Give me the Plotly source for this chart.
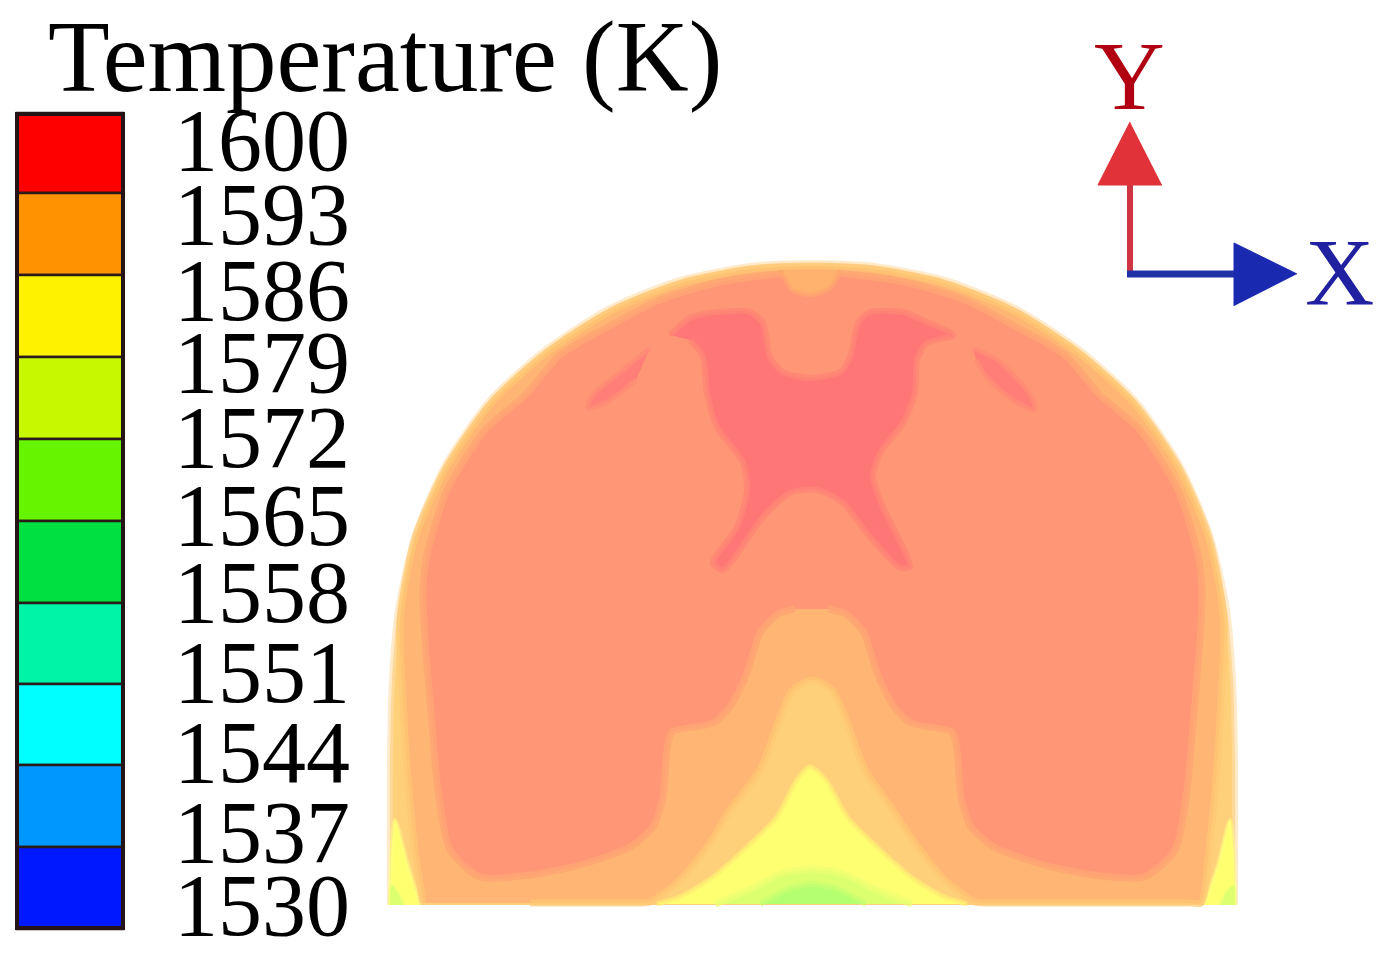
import plotly.graph_objects as go

# colour legend
levels = ["1600", "1593", "1586", "1579", "1572", "1565", "1558", "1551", "1544", "1537", "1530"]
level_colors = ["#ff0000", "#ff9200", "#fff200", "#c8f800", "#66f400", "#00e040",
                "#00f4a8", "#00ffff", "#0098ff", "#0018ff"]
level_edges = [113, 193, 275, 357, 439, 521, 603, 684, 765, 847, 929]
label_y = [140, 214, 290, 362, 437, 515, 592, 672, 752, 832, 905]

# temperature bands in image pixels
outer_x = [390, 390, 392, 398, 415, 445, 490, 545, 610, 680, 750, 812, 875, 945, 1015, 1080, 1135, 1180, 1210, 1227, 1233, 1235, 1235]
outer_y = [905, 760, 680, 610, 535, 465, 400, 350, 308, 280, 266, 263, 266, 280, 308, 350, 400, 465, 535, 610, 680, 760, 905]

orange_x = [423, 415, 408, 403, 400, 415, 446, 491, 546, 611, 681, 750, 812, 875, 944, 1014, 1079, 1134, 1179, 1209, 1224, 1221, 1216, 1209, 1201,
            1190, 1100, 1000, 985, 975, 945, 915, 893, 865, 845, 832, 813, 793, 780, 760, 730, 710, 680, 650, 640, 625, 530]
orange_y = [903, 850, 780, 700, 620, 538, 468, 403, 353, 311, 283, 269, 266, 269, 283, 311, 353, 403, 468, 538, 620, 700, 780, 850, 903,
            903, 903, 903, 903, 902, 880, 843, 810, 770, 717, 690, 680, 690, 717, 770, 810, 843, 880, 902, 903, 903, 903]

salmon_x = [795, 778, 760, 747, 730, 713, 672, 667, 663, 653, 630, 580, 530, 480, 450, 438, 430, 425, 423, 427, 447, 485, 525, 560, 602, 660, 720, 780, 812,
            845, 905, 965, 1022, 1065, 1100, 1140, 1178, 1198, 1202, 1200, 1195, 1187, 1175, 1144, 1094, 1044, 994, 971, 961, 957, 952, 911, 894, 877, 864, 846, 828]
salmon_y = [609, 614, 633, 673, 707, 723, 732, 750, 797, 827, 847, 865, 875, 877, 850, 790, 700, 640, 590, 555, 490, 430, 395, 355, 330, 300, 282, 274, 273,
            274, 282, 300, 330, 355, 395, 430, 490, 555, 590, 640, 700, 790, 850, 877, 875, 865, 847, 827, 797, 750, 732, 723, 707, 673, 633, 614, 609]

pink_x = [670, 690, 717, 750, 763, 770, 783, 810, 840, 850, 858, 870, 903, 927, 953, 927, 917, 915, 903, 880, 873, 883, 910, 900, 870, 843, 817, 790, 763, 723, 713, 737, 747, 743, 717, 707, 703, 690]
pink_y = [335, 318, 312, 312, 323, 357, 372, 378, 372, 357, 323, 312, 312, 322, 335, 343, 360, 393, 423, 453, 477, 507, 567, 568, 537, 503, 490, 493, 517, 570, 563, 527, 490, 463, 427, 393, 357, 340]

streak_left_x = [650, 628, 592, 588, 607, 636]
streak_left_y = [348, 366, 396, 408, 402, 380]
streak_right_x = [973, 999, 1031, 1035, 1016, 988, 976]
streak_right_y = [348, 361, 396, 410, 402, 379, 360]

cap_x = [780, 793, 810, 830, 840]
cap_y = [270, 290, 295, 288, 270]

yellow_x = [657, 680, 713, 747, 777, 797, 810, 826, 847, 877, 911, 944, 967]
yellow_y = [904, 897, 877, 847, 817, 780, 767, 780, 817, 847, 877, 897, 904]

lime_x = [715, 755, 780, 813, 844, 870, 912]
lime_y = [904, 887, 874, 869, 874, 887, 904]

green_x = [760, 788, 813, 838, 866]
green_y = [904, 889, 884, 889, 904]

corner_left_x = [390, 391, 395, 408, 420]
corner_left_y = [905, 860, 820, 865, 905]
corner_right_x = [1204, 1218, 1230, 1234, 1235]
corner_right_y = [905, 865, 820, 860, 905]

tint_left_x = [390, 391, 398, 404]
tint_left_y = [905, 885, 892, 905]
tint_right_x = [1220, 1226, 1234, 1235]
tint_right_y = [905, 892, 885, 905]

# orientation arrows
y_shaft_x = [1130, 1130]
y_shaft_y = [275, 180]
y_head_x = [1130, 1098, 1162]
y_head_y = [122, 185, 185]
x_shaft_x = [1127, 1240]
x_shaft_y = [274, 274]
x_head_x = [1297, 1234, 1234]
x_head_y = [274, 243, 306]


def band(xs, ys, color, soft="rgba(255,255,255,0)", width=0):
    return go.Scatter(x=xs, y=ys, mode="lines", fill="toself", fillcolor=color,
                      line=dict(color=soft, width=width, shape="spline", smoothing=0.7),
                      hoverinfo="skip", showlegend=False)


fig = go.Figure()

bands = [
    (outer_x, outer_y, "#ffd07a", "rgba(255,222,170,0.6)", 6),
    (corner_left_x, corner_left_y, "#ffff70", "rgba(255,255,130,0.5)", 4),
    (corner_right_x, corner_right_y, "#ffff70", "rgba(255,255,130,0.5)", 4),
    (tint_left_x, tint_left_y, "#dcff70", "rgba(235,255,112,0.5)", 3),
    (tint_right_x, tint_right_y, "#dcff70", "rgba(235,255,112,0.5)", 3),
    (orange_x, orange_y, "#ffb674", "rgba(255,200,116,0.7)", 7),
    (salmon_x, salmon_y, "#ff9675", "rgba(255,165,116,0.8)", 7),
    (cap_x, cap_y, "#ffb26e", "rgba(255,165,110,0.7)", 5),
    (pink_x, pink_y, "#ff7677", "rgba(255,134,118,0.8)", 6),
    (streak_left_x, streak_left_y, "#ff7f78", "rgba(255,140,118,0.8)", 5),
    (streak_right_x, streak_right_y, "#ff7f78", "rgba(255,140,118,0.8)", 5),
    (yellow_x, yellow_y, "#ffff72", "rgba(255,240,114,0.7)", 5),
    (lime_x, lime_y, "#dcff70", "rgba(235,255,112,0.7)", 7),
    (green_x, green_y, "#b4ff70", "rgba(200,255,112,0.7)", 6),
]
for xs, ys, color, soft, width in bands:
    fig.add_trace(band(xs, ys, color, soft, width))

# legend bar
fig.add_trace(go.Bar(
    x=[70] * len(level_colors),
    y=[level_edges[i + 1] - level_edges[i] for i in range(len(level_colors))],
    base=level_edges[:-1],
    width=106,
    marker=dict(color=level_colors, line=dict(color="#2a1a1a", width=2.5)),
    hoverinfo="skip", showlegend=False,
))
fig.add_shape(type="rect", x0=17, x1=123, y0=114, y1=928, line=dict(color="#241416", width=4))

# arrows
fig.add_trace(go.Scatter(x=y_shaft_x, y=y_shaft_y, mode="lines", line=dict(color="#d03440", width=6),
                         hoverinfo="skip", showlegend=False))
fig.add_trace(go.Scatter(x=y_head_x, y=y_head_y, mode="lines", fill="toself", fillcolor="#e03238",
                         line=dict(color="#e03238", width=1), hoverinfo="skip", showlegend=False))
fig.add_trace(go.Scatter(x=x_shaft_x, y=x_shaft_y, mode="lines", line=dict(color="#2030a8", width=7),
                         hoverinfo="skip", showlegend=False))
fig.add_trace(go.Scatter(x=x_head_x, y=x_head_y, mode="lines", fill="toself", fillcolor="#1a2ab0",
                         line=dict(color="#1a2ab0", width=1), hoverinfo="skip", showlegend=False))

serif = "Liberation Serif"
fig.add_annotation(x=46, y=57, text="Temperature (K)", showarrow=False, xanchor="left", yanchor="middle",
                   font=dict(family=serif, size=101, color="#000000"))
for lab, yy in zip(levels, label_y):
    fig.add_annotation(x=172, y=yy, text=lab, showarrow=False, xanchor="left", yanchor="middle",
                       font=dict(family=serif, size=88, color="#000000"))
fig.add_annotation(x=1129, y=76, text="Y", showarrow=False, yanchor="middle",
                   font=dict(family=serif, size=98, color="#b00012"))
fig.add_annotation(x=1339, y=272, text="X", showarrow=False, yanchor="middle",
                   font=dict(family=serif, size=96, color="#2020a0"))

# the page has an 8px body margin, so the axes start at 8 to stay in image pixels
fig.update_layout(
    width=1384, height=953, autosize=False,
    margin=dict(l=0, r=0, t=0, b=0),
    paper_bgcolor="white", plot_bgcolor="white",
    xaxis=dict(range=[8, 1392], visible=False, fixedrange=True),
    yaxis=dict(range=[961, 8], visible=False, fixedrange=True),
    showlegend=False,
)

fig.write_html("out.html")
